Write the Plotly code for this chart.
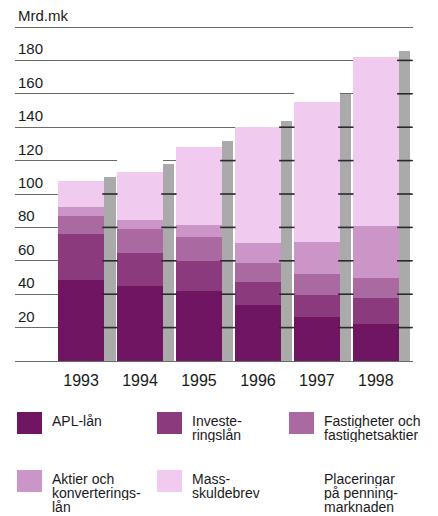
import plotly.graph_objects as go

years = ["1993", "1994", "1995", "1996", "1997", "1998"]
apl_lan = [48.5, 44.9, 41.9, 33.5, 26.1, 22.1]
investeringslan = [27.3, 19.5, 17.9, 13.9, 13.4, 15.4]
fastigheter = [10.8, 14.4, 14.5, 11.4, 12.4, 12.0]
aktier = [5.6, 5.9, 7.4, 12.0, 19.5, 31.2]
massskuldebrev = [15.8, 28.3, 46.3, 69.2, 83.6, 101.3]
placeringar = [4, 8, 6, 6, 8, 6]

tick_vals = [0, 20, 40, 60, 80, 100, 120, 140, 160, 180, 200]
tick_text = ["", "20", "40", "60", "80", "100", "120", "140", "160", "180", "Mrd.mk"]

series_names = ["APL-lån", "Investe-<br>ringslån", "Fastigheter och<br>fastighetsaktier",
                "Aktier och<br>konverterings-<br>lån", "Mass-<br>skuldebrev",
                "Placeringar<br>på penning-<br>marknaden"]
series_values = [apl_lan, investeringslan, fastigheter, aktier, massskuldebrev, placeringar]
series_colors = ["#701562", "#8c3a7e", "#ab69a2", "#cc95c8", "#f1caef", "#ffffff"]

FONT = "Liberation Sans, Arial, sans-serif"
x_pos = list(range(len(years)))
side_offset = 0.49
side_width = 0.19

fig = go.Figure()
for name, vals, col in zip(series_names, series_values, series_colors):
    fig.add_trace(go.Bar(x=x_pos, y=vals, width=0.79, marker=dict(color=col, line=dict(width=0)),
                         name=name.replace("<br>", " "), showlegend=False, hoverinfo="skip"))

totals = [sum(v) for v in zip(*series_values[:5])]
side_tops = [t + p * 0.6 for t, p in zip(totals, placeringar)]
side_x = [x + side_offset for x in x_pos]
fig.add_trace(go.Bar(x=side_x, y=side_tops, width=side_width,
                     marker=dict(color="#aaaaaa", line=dict(width=0)),
                     showlegend=False, hoverinfo="skip"))

# dash marks on side bars where gridlines cross them
dx, dy = [], []
for sx, top in zip(side_x, side_tops):
    for tv in tick_vals[1:]:
        if tv < top:
            dx.append(sx)
            dy.append(tv)
fig.add_trace(go.Scatter(x=dx, y=dy, mode="markers",
                         marker=dict(symbol="line-ew", size=11, line=dict(width=1.6, color="#2a2a2a")),
                         showlegend=False, hoverinfo="skip"))

# page has an 8px body margin: work in figure pixels
FIG_W, FIG_H = 430, 508
plot_left, plot_right, plot_top, plot_bottom = 7, 405, 2, 353
PX_PER_UNIT = 1.67
y_top = (plot_bottom - plot_top) / PX_PER_UNIT
W = plot_right - plot_left
H = plot_bottom - plot_top

def px_x(p):
    return (p - plot_left) / W

def px_y(p):
    return (plot_bottom - p) / H

shapes = []
annotations = []

# y-axis labels sitting on top of their gridlines
for tv, tt in zip(tick_vals, tick_text):
    if tt:
        annotations.append(dict(text=tt, xref="paper", yref="y", x=px_x(8), y=tv,
                                xanchor="left", yanchor="bottom", showarrow=False, yshift=1,
                                font=dict(family=FONT, size=15, color="#1a1a1a")))

leg_cols = [9, 149, 281]
leg_rows = [404, 462]
for i, (name, col) in enumerate(zip(series_names, series_colors)):
    cx = leg_cols[i % 3]
    ry = leg_rows[i // 3]
    if col.lower() != "#ffffff":
        shapes.append(dict(type="rect", xref="paper", yref="paper",
                           x0=px_x(cx), x1=px_x(cx + 25), y0=px_y(ry), y1=px_y(ry + 22),
                           fillcolor=col, line=dict(width=0)))
    for j, line in enumerate(name.split("<br>")):
        annotations.append(dict(text=line, xref="paper", yref="paper", height=14,
                                x=px_x(cx + 33), y=px_y(ry + 14 * j), xanchor="left", yanchor="top",
                                showarrow=False, font=dict(family=FONT, size=14, color="#1a1a1a")))

fig.update_layout(
    width=FIG_W, height=FIG_H,
    margin=dict(l=plot_left, r=FIG_W - plot_right, t=plot_top, b=FIG_H - plot_bottom),
    paper_bgcolor="white", plot_bgcolor="white",
    barmode="stack", bargap=0,
    shapes=shapes, annotations=annotations,
    xaxis=dict(range=[-1.12, 5.63], tickvals=x_pos, ticktext=years, showgrid=False,
               zeroline=False, showline=False, ticks="", ticklabelstandoff=8,
               tickfont=dict(family=FONT, size=16, color="#1a1a1a"), fixedrange=True),
    yaxis=dict(range=[0, y_top], tickvals=tick_vals, showticklabels=False, showgrid=True,
               gridcolor="#6a6a6a", gridwidth=1, zeroline=True, zerolinecolor="#6a6a6a",
               zerolinewidth=1, showline=False, ticks="", fixedrange=True),
    showlegend=False,
)

fig.write_html("out.html")
